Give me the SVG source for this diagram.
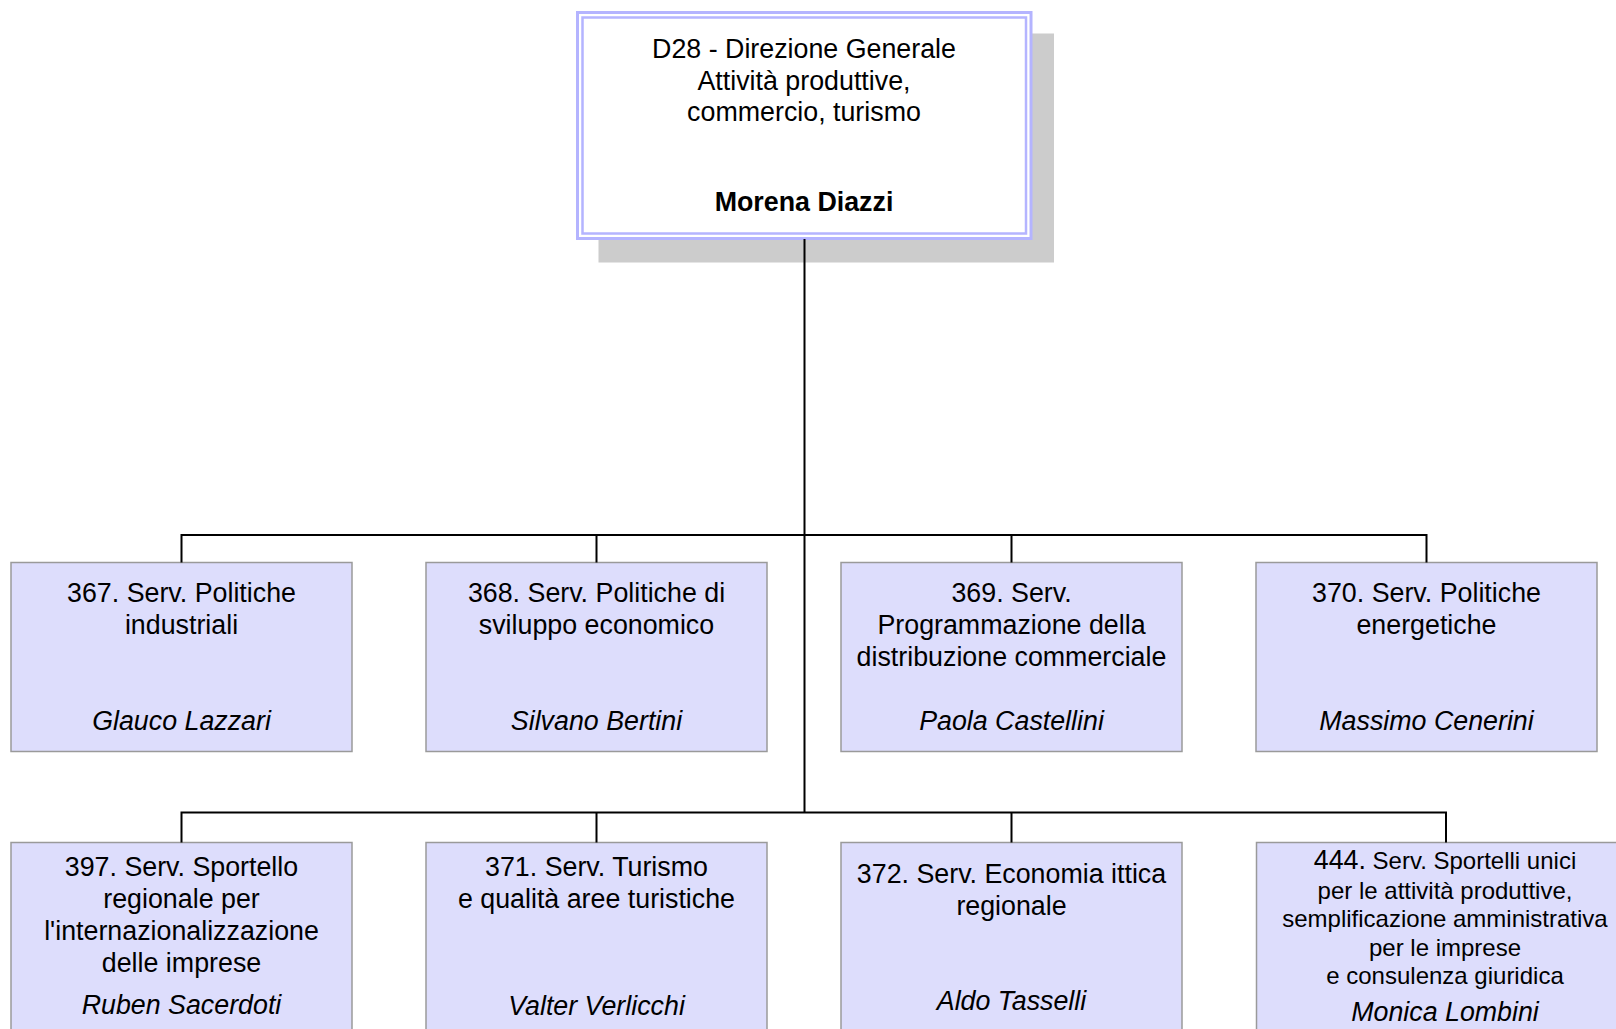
<svg xmlns="http://www.w3.org/2000/svg" width="1616" height="1029" viewBox="0 0 1616 1029">
<style>
text{font-family:"Liberation Sans",Arial,sans-serif;font-size:26.8px;fill:#000;text-anchor:middle}
.nm{font-style:italic}
.bd{font-weight:bold}
.sm{font-size:24px}
.box{fill:#ddddfc;stroke:#9a9a9a;stroke-width:1.5}
.ln{stroke:#000;stroke-width:2;fill:none}
</style>
<rect width="1616" height="1029" fill="#fff"/>
<g id="d28">
<rect x="598.5" y="33.5" width="455.5" height="229" fill="#cccccc"/>
<rect x="577.5" y="12.5" width="453.5" height="226" fill="#fff" stroke="#b4b4ff" stroke-width="3"/>
<rect x="582.5" y="17.5" width="443.5" height="216" fill="none" stroke="#b4b4ff" stroke-width="2.5"/>
<text x="804" y="57.5">D28 - Direzione Generale</text>
<text x="804" y="89.5">Attività produttive,</text>
<text x="804" y="121">commercio, turismo</text>
<text x="804" y="210.5" class="bd">Morena Diazzi</text>
</g>
<g id="s367">
<rect class="box" x="11" y="562.5" width="341" height="189"/>
<text x="181.5" y="601.7">367. Serv. Politiche</text>
<text x="181.5" y="634.3">industriali</text>
<text x="181.5" y="729.5" class="nm">Glauco Lazzari</text>
</g>
<g id="s368">
<rect class="box" x="426" y="562.5" width="341" height="189"/>
<text x="596.5" y="601.7">368. Serv. Politiche di</text>
<text x="596.5" y="634.3">sviluppo economico</text>
<text x="596.5" y="729.5" class="nm">Silvano Bertini</text>
</g>
<g id="s369">
<rect class="box" x="841" y="562.5" width="341" height="189"/>
<text x="1011.5" y="601.7">369. Serv.</text>
<text x="1011.5" y="634.3">Programmazione della</text>
<text x="1011.5" y="666">distribuzione commerciale</text>
<text x="1011.5" y="729.5" class="nm">Paola Castellini</text>
</g>
<g id="s370">
<rect class="box" x="1256" y="562.5" width="341" height="189"/>
<text x="1426.5" y="601.7">370. Serv. Politiche</text>
<text x="1426.5" y="634.3">energetiche</text>
<text x="1426.5" y="729.5" class="nm">Massimo Cenerini</text>
</g>
<g id="s397">
<rect class="box" x="11" y="842.5" width="341" height="200"/>
<text x="181.5" y="876">397. Serv. Sportello</text>
<text x="181.5" y="908">regionale per</text>
<text x="181.5" y="940">l'internazionalizzazione</text>
<text x="181.5" y="972">delle imprese</text>
<text x="181.5" y="1014" class="nm">Ruben Sacerdoti</text>
</g>
<g id="s371">
<rect class="box" x="426" y="842.5" width="341" height="200"/>
<text x="596.5" y="876">371. Serv. Turismo</text>
<text x="596.5" y="908">e qualità aree turistiche</text>
<text x="596.5" y="1015" class="nm">Valter Verlicchi</text>
</g>
<g id="s372">
<rect class="box" x="841" y="842.5" width="341" height="200"/>
<text x="1011.5" y="882.5">372. Serv. Economia ittica</text>
<text x="1011.5" y="914.5">regionale</text>
<text x="1011.5" y="1010" class="nm">Aldo Tasselli</text>
</g>
<g id="s444">
<rect class="box" x="1256.5" y="842.5" width="380" height="200"/>
<text x="1445" y="868.5">444.<tspan class="sm"> Serv. Sportelli unici</tspan></text>
<text x="1445" y="898.5" class="sm">per le attività produttive,</text>
<text x="1445" y="927" class="sm">semplificazione amministrativa</text>
<text x="1445" y="956" class="sm">per le imprese</text>
<text x="1445" y="984" class="sm">e consulenza giuridica</text>
<text x="1445" y="1021" class="nm">Monica Lombini</text>
</g>
<g id="connectors">
<path class="ln" d="M804.5 239V812.5" stroke-width="2.5"/>
<path class="ln" d="M181.5 562.5V535H1426.5V562.5M596.5 535V562.5M1011.5 535V562.5"/>
<path class="ln" d="M181.5 842.5V812.5H1446V842.5M596.5 812.5V842.5M1011.5 812.5V842.5"/>
</g>
</svg>
